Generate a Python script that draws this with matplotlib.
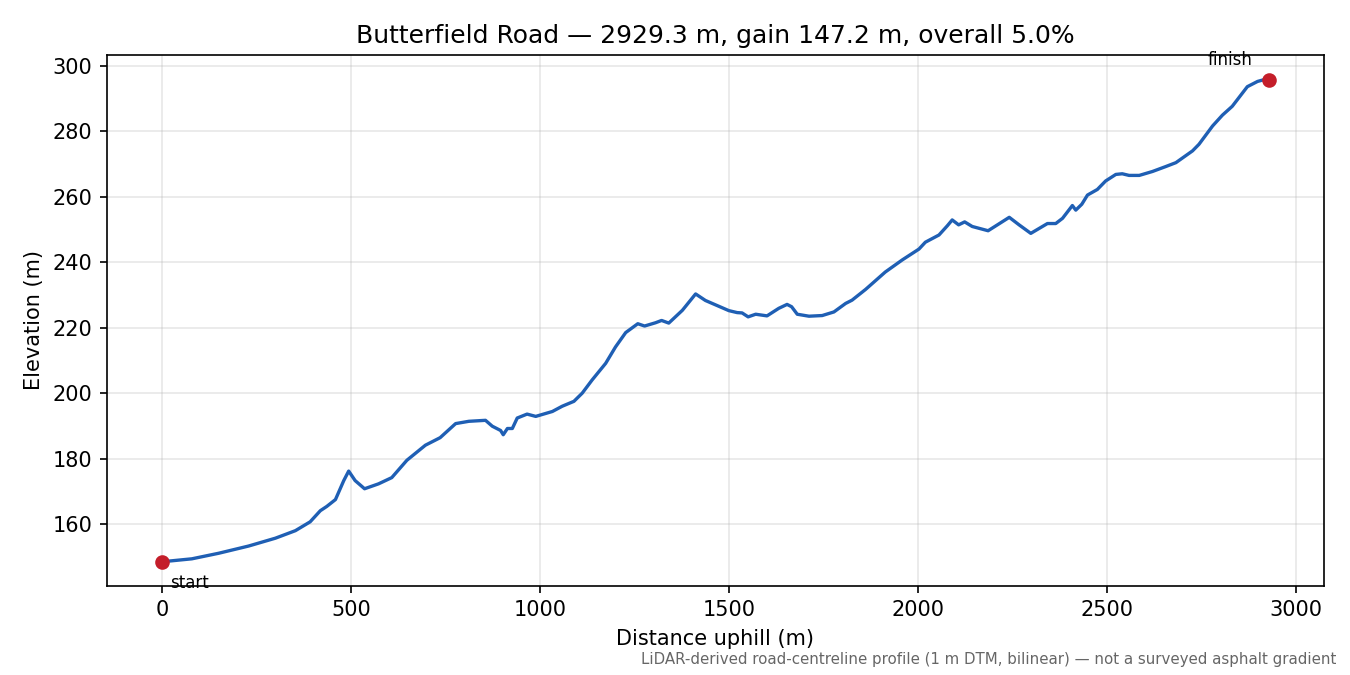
import matplotlib
matplotlib.use('Agg')
import matplotlib.pyplot as plt

# distance along road (m) and elevation (m)
dist = [0, 79, 150, 229, 300, 353, 392, 419, 436, 459, 481, 494, 511, 536, 573, 608,
        648, 697, 736, 777, 812, 856, 874, 896, 903, 914, 927, 940, 966, 989, 1033,
        1059, 1090, 1112, 1138, 1174, 1200, 1227, 1259, 1277, 1306, 1322, 1341, 1377,
        1412, 1438, 1474, 1500, 1522, 1535, 1551, 1571, 1601, 1632, 1654, 1666, 1681,
        1712, 1747, 1778, 1809, 1826, 1862, 1914, 1959, 2003, 2020, 2056, 2078, 2091,
        2108, 2124, 2144, 2186, 2212, 2242, 2268, 2299, 2321, 2343, 2365, 2383, 2409,
        2418, 2434, 2449, 2475, 2497, 2524, 2541, 2559, 2586, 2621, 2656, 2683, 2727,
        2744, 2780, 2806, 2832, 2872, 2899, 2921, 2929.3]
elev = [148.5, 149.4, 151.1, 153.3, 155.7, 158.0, 160.7, 164.1, 165.4, 167.5, 173.3,
        176.2, 173.3, 170.8, 172.3, 174.2, 179.5, 184.1, 186.4, 190.7, 191.4, 191.7,
        189.9, 188.6, 187.3, 189.2, 189.2, 192.4, 193.6, 192.9, 194.4, 196.0, 197.5,
        200.0, 204.0, 209.1, 214.1, 218.5, 221.2, 220.5, 221.5, 222.2, 221.4, 225.3,
        230.3, 228.3, 226.5, 225.2, 224.6, 224.5, 223.3, 224.1, 223.6, 225.9, 227.1,
        226.4, 224.1, 223.5, 223.7, 224.8, 227.4, 228.4, 231.7, 237.0, 240.7, 244.0,
        246.1, 248.3, 251.1, 252.9, 251.4, 252.3, 250.9, 249.6, 251.5, 253.7, 251.4,
        248.8, 250.3, 251.8, 251.8, 253.4, 257.3, 255.9, 257.7, 260.5, 262.2, 264.8,
        266.8, 267.0, 266.5, 266.5, 267.7, 269.2, 270.4, 274.0, 276.0, 281.6, 284.9,
        287.6, 293.6, 295.2, 295.9, 295.7]

fig, ax = plt.subplots(figsize=(9, 4.5), dpi=150)
fig.subplots_adjust(left=0.079, right=0.981, top=0.9185, bottom=0.132)

ax.plot(dist, elev, color='#1f5fb4', lw=1.6)
ax.plot([dist[0], dist[-1]], [elev[0], elev[-1]], 'o', color='#c41e2a', ms=6)
ax.annotate('start', (dist[0], elev[0]), xytext=(4, -6), textcoords='offset points',
            ha='left', va='top', fontsize=8)
ax.annotate('finish', (dist[-1], elev[-1]), xytext=(-8, 5), textcoords='offset points',
            ha='right', va='bottom', fontsize=8)

ax.grid(True, alpha=0.3)
ax.set_xlabel('Distance uphill (m)')
ax.set_ylabel('Elevation (m)')
ax.set_title('Butterfield Road — 2929.3 m, gain 147.2 m, overall 5.0%')
fig.text(0.99, 0.012, 'LiDAR-derived road-centreline profile (1 m DTM, bilinear) — not a surveyed asphalt gradient',
         ha='right', va='bottom', fontsize=7.2, color='#666666')

fig.savefig('out.png')
